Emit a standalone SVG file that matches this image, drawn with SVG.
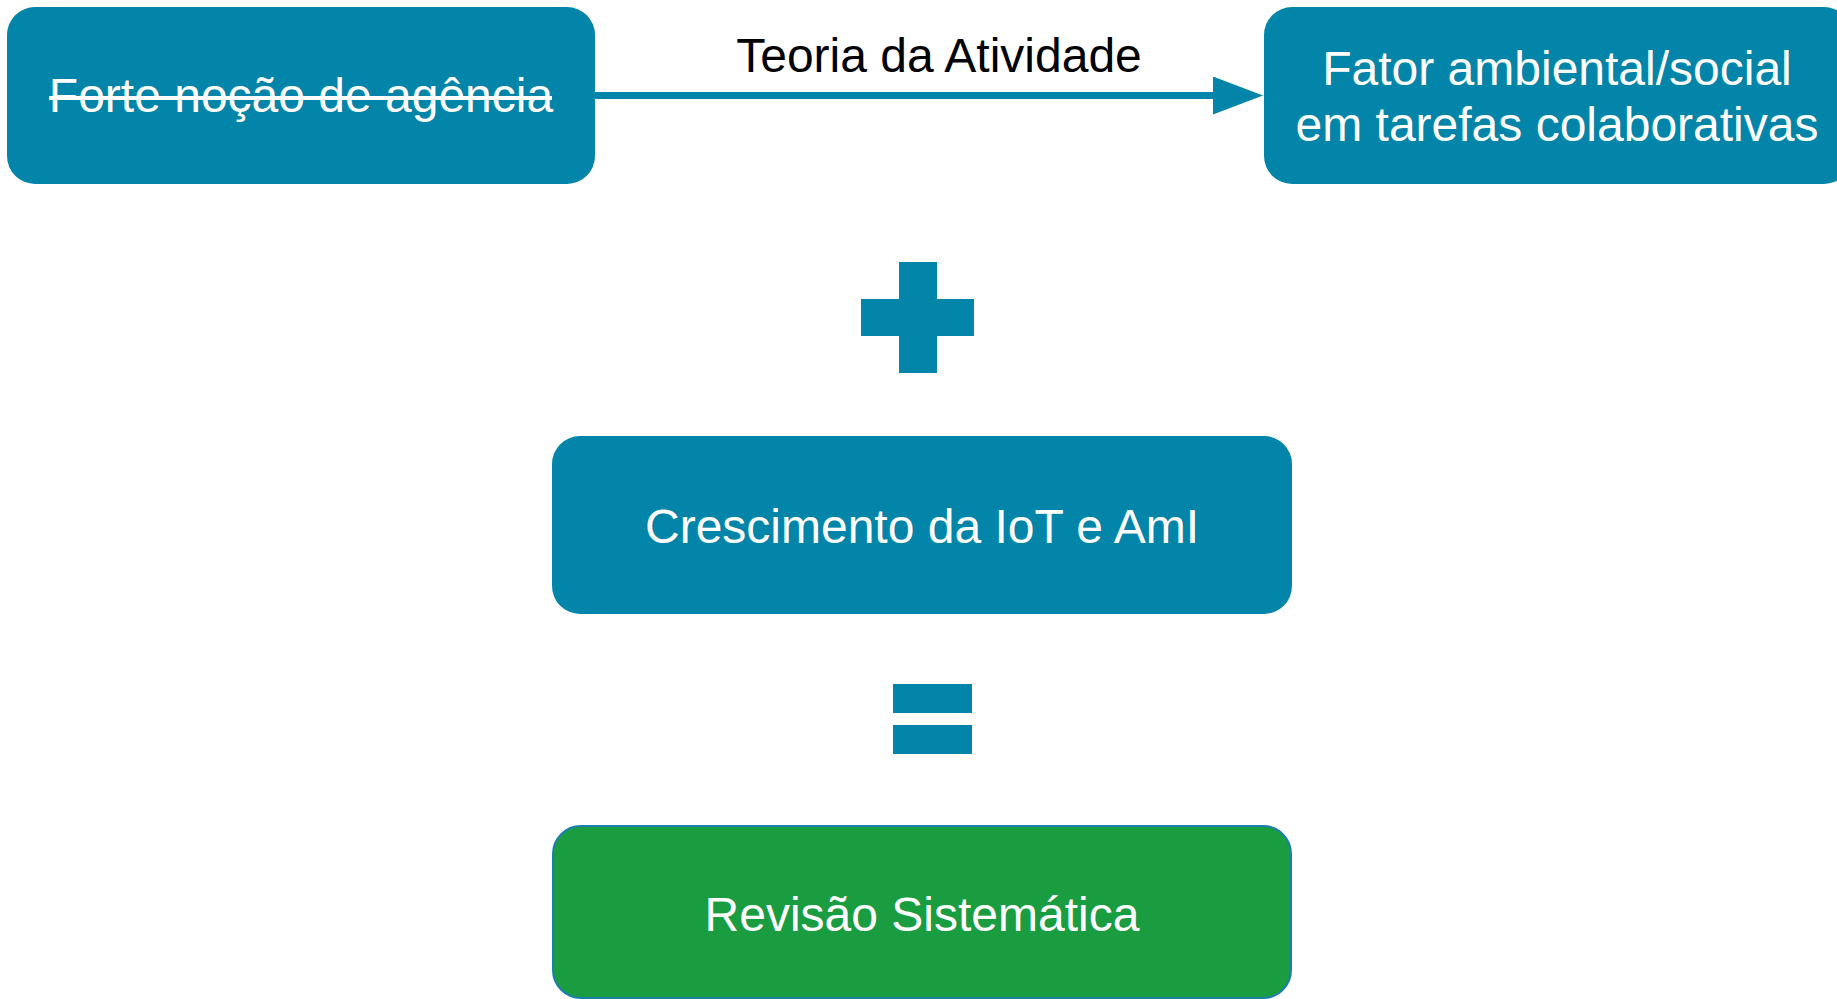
<svg xmlns="http://www.w3.org/2000/svg" width="1837" height="999" viewBox="0 0 1837 999">
  <style>
    .box { fill: #0285a9; }
    .green { fill: #199d40; stroke: #1a7fae; stroke-width: 2; }
    .sym { fill: #0285a9; }
    .lbl { font-family: "Liberation Sans", Arial, sans-serif; font-size: 48px; fill: #ffffff; text-anchor: middle; }
    .elbl { font-family: "Liberation Sans", Arial, sans-serif; font-size: 48px; fill: #000000; text-anchor: middle; }
    .conn { stroke: #0285a9; stroke-width: 7; fill: none; }
  </style>
  <defs>
    <marker id="arrow" markerUnits="userSpaceOnUse" markerWidth="52" markerHeight="38" refX="1" refY="19" orient="auto">
      <polygon points="0,0 50,19 0,38" fill="#0285a9"/>
    </marker>
  </defs>
  <rect width="1837" height="999" fill="#ffffff"/>

  <g id="connectors">
    <line class="conn" x1="595" y1="95.5" x2="1214" y2="95.5" marker-end="url(#arrow)"/>
    <text class="elbl" x="939" y="72">Teoria da Atividade</text>
  </g>

  <g id="node-forte">
    <rect class="box" x="7" y="7" width="588" height="177" rx="28" ry="28"/>
    <text class="lbl" x="301" y="112">Forte noção de agência</text>
    <rect x="49" y="96" width="503" height="4" fill="#ffffff"/>
  </g>

  <g id="node-fator">
    <rect class="box" x="1264" y="7" width="588" height="177" rx="28" ry="28"/>
    <text class="lbl" x="1557" y="85">Fator ambiental/social</text>
    <text class="lbl" x="1557" y="141">em tarefas colaborativas</text>
  </g>

  <g id="plus">
    <rect class="sym" x="899" y="262" width="38" height="111"/>
    <rect class="sym" x="861" y="299" width="113" height="37"/>
  </g>

  <g id="node-iot">
    <rect class="box" x="552" y="436" width="740" height="178" rx="28" ry="28"/>
    <text class="lbl" x="922" y="543">Crescimento da IoT e AmI</text>
  </g>

  <g id="equals">
    <rect class="sym" x="893" y="684" width="79" height="29"/>
    <rect class="sym" x="893" y="725" width="79" height="29"/>
  </g>

  <g id="node-revisao">
    <rect class="green" x="553" y="826" width="738" height="172" rx="28" ry="28"/>
    <text class="lbl" x="922" y="931">Revisão Sistemática</text>
  </g>
</svg>
